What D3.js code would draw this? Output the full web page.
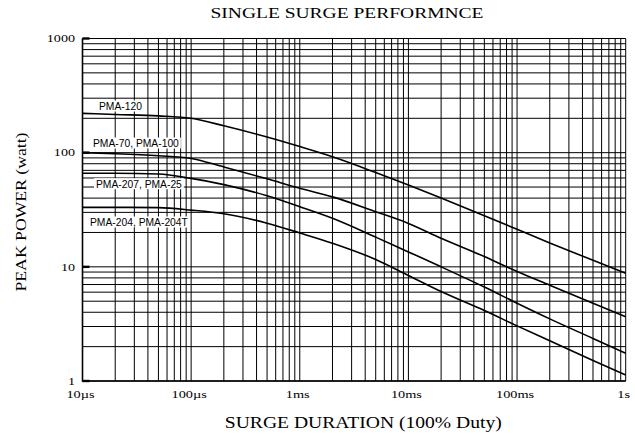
<!DOCTYPE html>
<html>
<head>
<meta charset="utf-8">
<script src="https://cdn.jsdelivr.net/npm/d3@7"></script>
<style>
  body { margin: 0; background: #fff; }
</style>
</head>
<body>
<svg id="chart" width="635" height="435"></svg>
<script>
// surge duration in seconds
const durations = [1e-5, 2e-5, 5e-5, 1e-4, 2e-4, 5e-4, 1e-3, 2e-3, 5e-3, 1e-2, 2e-2, 5e-2, 1e-1, 2e-1, 5e-1, 1];
// peak power (watt)
const pma120 = [221, 216, 210, 200, 172, 137, 113, 92, 67, 52, 40, 28, 21.3, 16.2, 11.4, 8.8];
const pma70 = [100, 98, 94, 89, 75, 59, 48.7, 41, 30.4, 24, 17.8, 12.3, 9.1, 6.9, 4.8, 3.66];
const pma207 = [66, 66, 65, 59.5, 52.5, 41.9, 33.6, 26.6, 18.2, 13.5, 10, 6.65, 4.8, 3.5, 2.36, 1.75];
const pma204 = [33.2, 33.2, 33, 31.4, 29.2, 24.1, 19.8, 16.1, 11.6, 8.4, 6.07, 4.14, 3.04, 2.25, 1.51, 1.13];

const seriesNames = ["PMA-120", "PMA-70, PMA-100", "PMA-207, PMA-25", "PMA-204, PMA-204T"];
const seriesValues = [pma120, pma70, pma207, pma204];

const xTickValues = [1e-5, 1e-4, 1e-3, 1e-2, 1e-1, 1];
const xTickLabels = ["10\u00b5s", "100\u00b5s", "1ms", "10ms", "100ms", "1s"];
const yTickValues = [1, 10, 100, 1000];
const yTickLabels = ["1", "10", "100", "1000"];

const serif = "'Liberation Serif', 'Times New Roman', serif";
const sans = "'Liberation Sans', Arial, sans-serif";

const svg = d3.select("#chart");

const x = d3.scaleLog().domain([1e-5, 1]).range([82.5, 625.7]);
const y = d3.scaleLog().domain([1, 1000]).range([381, 38.5]);

// grid lines, 1..9 per decade
const xGrid = [];
for (let d = 1e-5; d < 0.5; d *= 10) for (let k = 1; k < 10; k++) xGrid.push(k * d);
xGrid.push(1);
const yGrid = [];
for (let d = 1; d < 500; d *= 10) for (let k = 1; k < 10; k++) yGrid.push(k * d);
yGrid.push(1000);

const grid = svg.append("g").attr("stroke", "#000").attr("stroke-width", 1);
grid.selectAll("line.v")
  .data(xGrid)
  .join("line")
  .attr("class", "v")
  .attr("x1", (d) => x(d)).attr("x2", (d) => x(d))
  .attr("y1", y(1)).attr("y2", y(1000));
grid.selectAll("line.h")
  .data(yGrid)
  .join("line")
  .attr("class", "h")
  .attr("x1", x(1e-5)).attr("x2", x(1))
  .attr("y1", (d) => y(d)).attr("y2", (d) => y(d));

// heavier left / bottom frame and short major ticks
svg.append("path")
  .attr("d", `M${x(1e-5)},${y(1000)}V${y(1)}H${x(1)}`)
  .attr("fill", "none")
  .attr("stroke", "#000")
  .attr("stroke-width", 1.6);
svg.selectAll("line.ytick")
  .data(yTickValues)
  .join("line")
  .attr("class", "ytick")
  .attr("x1", x(1e-5)).attr("x2", x(1e-5) + 7)
  .attr("y1", (d) => y(d)).attr("y2", (d) => y(d))
  .attr("stroke", "#000")
  .attr("stroke-width", 2.4);

// curves
const line = d3.line()
  .x((d) => x(d[0]))
  .y((d) => y(d[1]))
  .curve(d3.curveMonotoneX);

svg.selectAll("path.curve")
  .data(seriesValues)
  .join("path")
  .attr("class", "curve")
  .attr("d", (vals) => line(durations.map((t, i) => [t, vals[i]])))
  .attr("fill", "none")
  .attr("stroke", "#000")
  .attr("stroke-width", 1.6);

// series labels with white boxes
const labelPos = [[99, 110], [93, 147], [96, 187.7], [90, 226]];
const labels = svg.append("g");
seriesNames.forEach((name, i) => {
  const g = labels.append("g");
  const t = g.append("text")
    .attr("x", labelPos[i][0])
    .attr("y", labelPos[i][1])
    .style("font-family", sans)
    .style("font-size", "10.3px")
    .attr("fill", "#000")
    .text(name);
  const w = t.node().getComputedTextLength();
  g.insert("rect", "text")
    .attr("x", labelPos[i][0] - 2)
    .attr("y", labelPos[i][1] - 9.5)
    .attr("width", w + 4)
    .attr("height", 11)
    .attr("fill", "#fff");
});

// tick labels, the original type is stretched sideways
function stretch(sel, f) {
  sel.each(function () {
    const len = this.getComputedTextLength();
    d3.select(this).attr("textLength", len * f).attr("lengthAdjust", "spacingAndGlyphs");
  });
}

svg.selectAll("text.ylab")
  .data(yTickValues)
  .join("text")
  .attr("class", "ylab")
  .attr("x", 75)
  .attr("y", (d) => y(d) + 3.8)
  .attr("text-anchor", "end")
  .style("font-family", serif)
  .style("font-size", "11px")
  .text((d, i) => yTickLabels[i])
  .call(stretch, 1.28);

svg.selectAll("text.xlab")
  .data(xTickValues)
  .join("text")
  .attr("class", "xlab")
  .attr("x", (d) => x(d) - 2)
  .attr("y", 398)
  .attr("text-anchor", "middle")
  .style("font-family", serif)
  .style("font-size", "11px")
  .text((d, i) => xTickLabels[i])
  .call(stretch, 1.3);

// titles
svg.append("text")
  .attr("x", 347)
  .attr("y", 18.3)
  .attr("text-anchor", "middle")
  .attr("textLength", 273)
  .attr("lengthAdjust", "spacingAndGlyphs")
  .style("font-family", serif)
  .style("font-size", "15px")
  .text("SINGLE SURGE PERFORMNCE");

svg.append("text")
  .attr("x", 363.3)
  .attr("y", 428)
  .attr("text-anchor", "middle")
  .attr("textLength", 277)
  .attr("lengthAdjust", "spacingAndGlyphs")
  .style("font-family", serif)
  .style("font-size", "16px")
  .text("SURGE DURATION (100% Duty)");

svg.append("text")
  .attr("transform", "translate(26,212) rotate(-90)")
  .attr("text-anchor", "middle")
  .attr("textLength", 159)
  .attr("lengthAdjust", "spacingAndGlyphs")
  .style("font-family", serif)
  .style("font-size", "15px")
  .text("PEAK POWER (watt)");
</script>
</body>
</html>
